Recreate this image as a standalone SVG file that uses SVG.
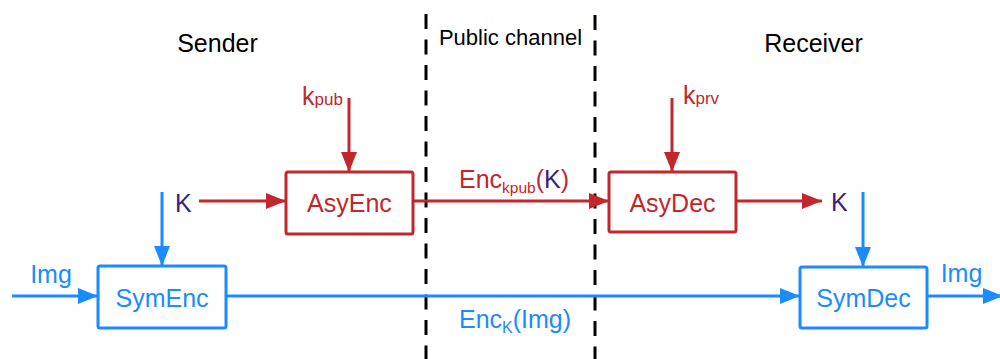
<svg xmlns="http://www.w3.org/2000/svg" width="1000" height="359" viewBox="0 0 1000 359">
<style>
text{font-family:"Liberation Sans",Arial,sans-serif;}
.t{font-size:25px;}
.blk{fill:#000;}
.red{fill:#c1272d;}
.blu{fill:#1a8cff;}
.pur{fill:#3c1d7a;}
.box{fill:#fff;stroke-width:3;}
.rb{stroke:#c1272d;}
.bb{stroke:#1a8cff;}
.ln{fill:none;stroke-width:3;}
.dash{stroke:#000;stroke-width:3;stroke-dasharray:15 10.5;fill:none;}
</style>
<defs>
<marker id="ar" viewBox="0 0 20 16" refX="20" refY="8" markerWidth="20" markerHeight="16" markerUnits="userSpaceOnUse" orient="auto"><path d="M0,0 L20,8 L0,16 Z" fill="#c1272d"/></marker>
<marker id="ab" viewBox="0 0 20 16" refX="20" refY="8" markerWidth="20" markerHeight="16" markerUnits="userSpaceOnUse" orient="auto"><path d="M0,0 L20,8 L0,16 Z" fill="#1a8cff"/></marker>
</defs>
<g id="boundaries">
<line class="dash" x1="426" y1="14" x2="426" y2="359"/>
<line class="dash" x1="595" y1="15" x2="595" y2="359"/>
</g>
<g id="headers">
<text x="217.5" y="52" font-size="25" text-anchor="middle" class="blk">Sender</text>
<text x="510.5" y="45" font-size="22" text-anchor="middle" class="blk">Public channel</text>
<text x="813.5" y="52" font-size="25" text-anchor="middle" class="blk">Receiver</text>
</g>
<g id="connectors">
<line class="ln bb" x1="12" y1="296" x2="98" y2="296" marker-end="url(#ab)"/>
<line class="ln bb" x1="162" y1="192" x2="162" y2="266" marker-end="url(#ab)"/>
<line class="ln rb" x1="199" y1="201" x2="286" y2="201" marker-end="url(#ar)"/>
<line class="ln rb" x1="349" y1="98" x2="349" y2="172" marker-end="url(#ar)"/>
<line class="ln rb" x1="413" y1="201" x2="609" y2="201" marker-end="url(#ar)"/>
<line class="ln rb" x1="672" y1="98" x2="672" y2="172" marker-end="url(#ar)"/>
<line class="ln rb" x1="736" y1="201" x2="822" y2="201" marker-end="url(#ar)"/>
<line class="ln bb" x1="863" y1="192" x2="863" y2="267" marker-end="url(#ab)"/>
<line class="ln bb" x1="226" y1="296" x2="800" y2="296" marker-end="url(#ab)"/>
<line class="ln bb" x1="927" y1="296" x2="1003" y2="296" marker-end="url(#ab)"/>
</g>
<g id="labels">
<text x="51" y="283" class="t blu" text-anchor="middle">Img</text>
<text x="961.5" y="282" class="t blu" text-anchor="middle">Img</text>
<text x="175" y="212" class="t pur">K</text>
<text x="831" y="211" class="t pur">K</text>
<text x="302" y="105" class="red"><tspan font-size="25">k</tspan><tspan font-size="17">pub</tspan></text>
<text x="683" y="104" class="red"><tspan font-size="25">k</tspan><tspan font-size="17">prv</tspan></text>
<text x="459" y="188" class="red"><tspan font-size="25">Enc</tspan><tspan font-size="15.5" dy="5">kpub</tspan><tspan font-size="25" dy="-5">(</tspan><tspan font-size="25" class="pur">K</tspan><tspan font-size="25">)</tspan></text>
<text x="459" y="328" class="blu"><tspan font-size="25">Enc</tspan><tspan font-size="16" dy="5">K</tspan><tspan font-size="25" dy="-5">(Img)</tspan></text>
</g>
<g id="SymEnc">
<rect class="box bb" x="98" y="266" width="128" height="62" rx="2"/>
<text x="162" y="307" class="t blu" text-anchor="middle">SymEnc</text>
</g>
<g id="AsyEnc">
<rect class="box rb" x="286" y="172" width="127" height="62" rx="2"/>
<text x="349.5" y="212" class="t red" text-anchor="middle">AsyEnc</text>
</g>
<g id="AsyDec">
<rect class="box rb" x="609" y="172" width="127" height="60" rx="2"/>
<text x="672.5" y="212" class="t red" text-anchor="middle">AsyDec</text>
</g>
<g id="SymDec">
<rect class="box bb" x="800" y="267" width="127" height="61" rx="2"/>
<text x="863.5" y="307" class="t blu" text-anchor="middle">SymDec</text>
</g>
</svg>
